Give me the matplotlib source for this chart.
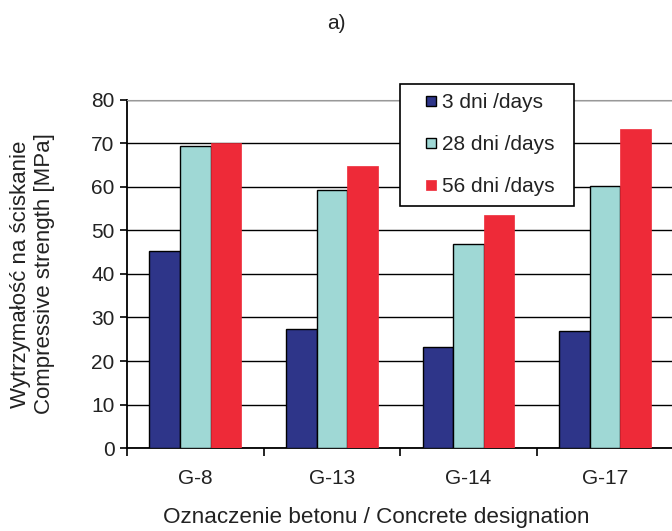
import numpy as np
import matplotlib.pyplot as plt
import matplotlib.patches as mpatches
from matplotlib.legend_handler import HandlerPatch

plt.rcParams['font.family'] = ['Liberation Sans', 'DejaVu Sans']

beton = ['G-8', 'G-13', 'G-14', 'G-17']
dni3 = [45.3, 27.3, 23.2, 27.0]
dni28 = [69.4, 59.2, 47.0, 60.2]
dni56 = [70.2, 64.8, 53.6, 73.3]
etykiety = ['3 dni /days', '28 dni /days', '56 dni /days']

fig = plt.figure(figsize=(6.72, 5.31), dpi=100)
ax = fig.add_axes([0.189, 0.1563, 0.813, 0.6554])

x = np.arange(len(beton))
w = 0.224
b1 = ax.bar(x - w, dni3, w, color='#2E3589', edgecolor='black', linewidth=1.0,
            zorder=3)
b2 = ax.bar(x, dni28, w, color='#9FD8D5', edgecolor='black', linewidth=1.0,
            zorder=3)
b3 = ax.bar(x + w, dni56, w, color='#EE2A38', edgecolor='#EE2A38', linewidth=0.5,
            zorder=3)

ax.set_ylim(0, 80)
ax.set_xlim(-0.5, 3.5)
ax.set_yticks(range(0, 81, 10))
ax.yaxis.grid(True, color='black', linewidth=1.0, zorder=0)
ax.set_axisbelow(True)

# ticks between the groups, labels centred under them
ax.set_xticks(np.arange(-0.5, 3.6, 1.0))
ax.set_xticklabels([])
ax.set_xticks(x, minor=True)
ax.set_xticklabels(beton, minor=True)
ax.tick_params(axis='x', which='minor', length=0, pad=15, labelsize=15,
               labelcolor='#222222')
ax.tick_params(axis='x', which='major', length=6, width=1.2, direction='out')
ax.tick_params(axis='y', length=5, width=1.2, labelsize=15, pad=4,
               labelcolor='#222222')

for s in ['left', 'bottom']:
    ax.spines[s].set_linewidth(1.3)
ax.spines['top'].set_color('#999999')
ax.spines['right'].set_visible(False)

ax.set_xlabel('Oznaczenie betonu / Concrete designation', fontsize=16.2,
              color='#222222')
ax.xaxis.set_label_coords(0.456, -0.17)
ax.set_ylabel('Wytrzymałość na ściskanie\nCompressive strength [MPa]',
              fontsize=16, labelpad=26, color='#222222')

fig.text(0.5, 0.955, 'a)', ha='center', va='center', fontsize=15,
         color='#222222')


def small_square(legend, orig_handle, xdescent, ydescent, width, height, fontsize):
    s = 7.5
    return mpatches.Rectangle((-xdescent + width - s - 3, -ydescent + (height - s) / 2), s, s)


uchwyty = [b1.patches[0], b2.patches[0], b3.patches[0]]
leg = ax.legend(uchwyty, [e + '\u2002' for e in etykiety], loc='upper left',
                bbox_to_anchor=(400 / 672, 1 - 84 / 531),
                bbox_transform=fig.transFigure, fontsize=15, frameon=True,
                fancybox=False, edgecolor='black', framealpha=1,
                handlelength=1.5, handleheight=0.7, handletextpad=0.05,
                labelspacing=1.1, borderpad=0.45, borderaxespad=0,
                handler_map={mpatches.Rectangle: HandlerPatch(patch_func=small_square)})
leg.get_frame().set_linewidth(1.2)
leg.set_zorder(5)
for t in leg.get_texts():
    t.set_color('#222222')

plt.savefig('out.png', dpi=100)
